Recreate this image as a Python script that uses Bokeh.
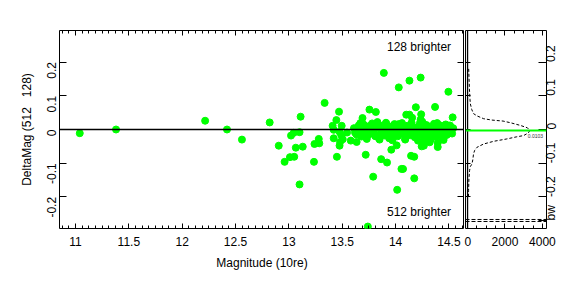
import math
from bokeh.plotting import figure
from bokeh.layouts import row
from bokeh.models import Range1d, LinearAxis, FixedTicker, Span, Label, ColumnDataSource
from bokeh.embed import file_html
from bokeh.resources import INLINE

FONT = "Liberation Sans"

# ---------------- data ----------------
outlier_mag = [11.04, 11.38, 12.215, 12.42, 12.56, 12.82, 12.905, 12.96, 13.01, 13.05,
               13.02, 13.045, 13.065, 13.10, 13.11, 13.10, 13.13, 13.235, 13.24, 13.28,
               13.285, 13.335, 13.42, 13.45, 13.41, 13.42, 13.445, 13.47, 13.495, 13.475,
               13.49, 13.505, 13.48, 13.475, 13.545, 13.58, 13.635, 13.72, 13.62, 13.635,
               13.655, 13.67, 13.69, 13.665, 13.74, 13.755, 13.89, 14.03, 14.13, 14.235,
               14.495, 13.815, 14.19, 14.37, 14.10, 14.13, 14.24, 14.535, 13.83, 14.155,
               14.235, 14.25, 13.96, 14.01, 13.865, 13.92, 13.79, 14.07, 14.055, 14.145,
               14.175, 14.175, 14.015, 14.265, 14.265, 14.32, 14.395, 14.395, 14.245, 13.74]
outlier_delta = [-0.011, 0.000, 0.026, 0.000, -0.030, 0.021, -0.048, -0.096, -0.082, -0.081,
                 -0.018, -0.010, -0.054, -0.163, 0.038, -0.008, -0.051, -0.096, -0.043, -0.028,
                 -0.041, 0.079, -0.026, -0.081, 0.011, -0.001, 0.028, 0.053, 0.011, -0.007,
                 -0.016, -0.029, -0.037, -0.048, -0.009, -0.033, -0.037, -0.075, -0.009, -0.015,
                 0.012, 0.019, 0.034, -0.003, -0.017, 0.059, 0.168, 0.125, 0.145, 0.154,
                 0.112, 0.052, 0.066, 0.067, 0.044, 0.044, 0.045, 0.036, 0.022, 0.035,
                 0.030, 0.023, -0.060, -0.047, -0.088, -0.098, -0.140, -0.117, -0.117, -0.078,
                 -0.081, -0.145, -0.179, -0.036, -0.048, -0.038, -0.040, -0.052, -0.050, -0.288]

band_mag_1 = [13.61, 13.63, 13.66, 13.68, 13.70, 13.71, 13.73, 13.75, 13.77, 13.78,
              13.80, 13.82, 13.84, 13.85, 13.87, 13.88, 13.90, 13.91, 13.93, 13.94,
              13.96, 13.97, 13.99, 14.00, 14.02, 14.03, 14.05, 14.06, 14.08, 14.09,
              14.11, 14.12, 14.14, 14.15, 14.17, 14.18, 14.20, 14.21, 14.23, 14.24,
              14.26, 14.27, 14.29, 14.30, 14.32, 14.33, 14.35, 14.36, 14.38, 14.39,
              14.41, 14.42, 14.44, 14.45, 14.47, 14.48, 14.50, 14.51, 14.53, 14.54]
band_delta_1 = [0.004, -0.012, 0.008, -0.021, 0.015, -0.005, -0.028, 0.010, -0.002, 0.018,
                -0.015, 0.006, -0.024, 0.012, -0.008, 0.002, -0.018, 0.020, -0.004, -0.026,
                0.009, -0.011, 0.016, -0.001, -0.020, 0.007, -0.013, 0.019, -0.006, -0.030,
                0.011, -0.003, -0.017, 0.014, 0.001, -0.023, 0.005, -0.009, 0.021, -0.014,
                0.003, -0.027, 0.013, -0.007, -0.019, 0.008, -0.002, 0.017, -0.022, 0.006,
                -0.010, 0.012, -0.025, 0.002, 0.015, -0.016, -0.004, 0.010, -0.012, 0.004]
band_mag_2 = [13.64, 13.67, 13.69, 13.72, 13.74, 13.76, 13.79, 13.81, 13.83, 13.86,
              13.89, 13.92, 13.95, 13.98, 14.01, 14.04, 14.07, 14.10, 14.13, 14.16,
              14.19, 14.22, 14.25, 14.28, 14.31, 14.34, 14.37, 14.40, 14.43, 14.46,
              14.49, 14.52, 13.85, 13.91, 13.97, 14.03, 14.09, 14.15, 14.21, 14.27,
              14.33, 14.39, 14.45, 14.51]
band_delta_2 = [-0.008, 0.003, -0.017, 0.000, -0.010, 0.006, -0.004, -0.020, 0.009, -0.007,
                0.001, -0.012, 0.004, -0.015, 0.007, -0.006, 0.002, -0.011, -0.001, 0.005,
                -0.008, 0.011, -0.003, -0.009, 0.003, -0.013, 0.000, -0.005, 0.008, -0.018,
                0.001, -0.006, -0.030, 0.018, -0.032, 0.016, -0.028, 0.020, -0.033, 0.014,
                -0.029, 0.019, -0.031, 0.012]

# density of DeltaMag (right panel)
dens_delta = [0.180, 0.150, 0.120, 0.090, 0.076, 0.060, 0.047, 0.040, 0.032, 0.028,
              0.025, 0.020, 0.012, 0.005, -0.003, -0.010, -0.018, -0.022, -0.028, -0.035,
              -0.043, -0.053, -0.062, -0.072, -0.090, -0.102, -0.110, -0.121, -0.150, -0.181, -0.200]
dens_value = [60, 80, 100, 130, 150, 220, 320, 520, 860, 1300,
              1900, 2300, 2830, 3200, 3330, 3250, 3000, 2600, 2100, 1400,
              860, 500, 380, 320, 280, 236, 150, 110, 70, 55, 50]
median_delta = -0.003
bw_levels = [-0.267, -0.273]
bw_label_pos = -0.27
peak_label = "0.0103"

x_ticks = [11, 11.5, 12, 12.5, 13, 13.5, 14, 14.5]
x_tick_labels = ["11", "11.5", "12", "12.5", "13", "13.5", "14", "14.5"]
y_ticks = [-0.2, -0.1, 0, 0.1, 0.2]
y_tick_labels = ["-0.2", "-0.1", "0", "0.1", "0.2"]
d_ticks = [0, 2000, 4000]
d_tick_labels = ["0", "2000", "4000"]

mag = outlier_mag + band_mag_1 + band_mag_2
delta = outlier_delta + band_delta_1 + band_delta_2

YR = (-0.2938, 0.2938)


def style(ax, labels, tick_in, minor_in=0, standoff=7):
    ax.axis_line_color = None
    ax.major_tick_in = tick_in
    ax.major_tick_out = 0
    ax.minor_tick_in = minor_in
    ax.minor_tick_out = 0
    ax.major_tick_line_color = "black"
    ax.minor_tick_line_color = "black" if minor_in else None
    ax.major_label_text_font = FONT
    ax.axis_label_text_font = FONT
    ax.axis_label_text_font_style = "normal"
    ax.axis_label_text_font_size = "12px"
    ax.axis_label_text_color = "black"
    if labels:
        ax.major_label_text_color = "black"
        ax.major_label_text_font_size = "12px"
        ax.major_label_standoff = standoff
    else:
        ax.major_label_text_color = None
        ax.major_label_text_font_size = "1px"
        ax.major_label_standoff = 0


# ---------------- main panel ----------------
p1 = figure(width=464, height=288, x_range=Range1d(10.85, 14.646), y_range=Range1d(*YR),
            output_backend="svg", toolbar_location=None,
            x_axis_location=None, y_axis_location=None,
            min_border_left=59, min_border_right=0, min_border_top=30, min_border_bottom=60)
p1.xgrid.visible = False
p1.ygrid.visible = False
p1.outline_line_color = "black"
p1.background_fill_color = "white"
p1.border_fill_color = "white"

minor_x = [10.875 + 0.0625 * i for i in range(61)]
xt = FixedTicker(ticks=x_ticks, minor_ticks=minor_x)
yt = FixedTicker(ticks=y_ticks)

bx = LinearAxis(ticker=xt, axis_label="Magnitude (10re)")
style(bx, True, 5, 3, standoff=8)
bx.major_label_overrides = dict(zip(x_ticks, x_tick_labels))
bx.axis_label_standoff = 7
p1.add_layout(bx, "below")

tx = LinearAxis(ticker=xt)
style(tx, False, 5, 3)
p1.add_layout(tx, "above")

ly = LinearAxis(ticker=yt, axis_label="DeltaMag (512\u00a0\u00a0\u00a0128)")
style(ly, True, 7, standoff=8)
ly.major_label_overrides = dict(zip(y_ticks, y_tick_labels))
ly.major_label_orientation = math.pi / 2
ly.axis_label_standoff = 6
p1.add_layout(ly, "left")

ry = LinearAxis(ticker=yt)
style(ry, False, 7)
p1.add_layout(ry, "right")

p1.add_layout(Span(location=0, dimension="width", line_color="black", line_width=1.5))
src = ColumnDataSource(dict(mag=mag, delta=delta))
p1.scatter("mag", "delta", source=src, size=7, marker="circle",
           fill_color="#00FF00", line_color="#00FF00")

p1.add_layout(Label(x=14.52, y=0.246, text="128 brighter", text_align="right",
                    text_baseline="middle", text_font=FONT, text_font_size="12px",
                    text_color="black"))
p1.add_layout(Label(x=14.52, y=-0.246, text="512 brighter", text_align="right",
                    text_baseline="middle", text_font=FONT, text_font_size="12px",
                    text_color="black"))

# ---------------- density panel ----------------
p2 = figure(width=112, height=288, x_range=Range1d(-110, 4220), y_range=Range1d(*YR),
            output_backend="svg", toolbar_location=None,
            x_axis_location=None, y_axis_location=None,
            min_border_left=1, min_border_right=30, min_border_top=30, min_border_bottom=60)
p2.xgrid.visible = False
p2.ygrid.visible = False
p2.outline_line_color = "black"

dt = FixedTicker(ticks=d_ticks, minor_ticks=[500 * i for i in range(9)])
b2 = LinearAxis(ticker=dt)
style(b2, True, 5, 3, standoff=8)
b2.major_label_overrides = dict(zip(d_ticks, d_tick_labels))
p2.add_layout(b2, "below")

t2 = LinearAxis(ticker=dt)
style(t2, False, 5, 3)
p2.add_layout(t2, "above")

l2 = LinearAxis(ticker=yt)
style(l2, False, 5)
p2.add_layout(l2, "left")

r2 = LinearAxis(ticker=FixedTicker(ticks=[bw_label_pos] + y_ticks))
style(r2, True, 8, standoff=5)
r2.major_label_overrides = dict(zip([bw_label_pos] + y_ticks, ["bw"] + y_tick_labels))
r2.major_label_orientation = math.pi / 2
p2.add_layout(r2, "right")

p2.add_layout(Span(location=0, dimension="height", line_color="black", line_width=1.3))
p2.add_layout(Span(location=median_delta, dimension="width", line_color="#00FF00", line_width=2))
for lv in bw_levels:
    p2.add_layout(Span(location=lv, dimension="width", line_color="black",
                       line_width=1, line_dash="4 2"))
p2.line(dens_value, dens_delta, line_color="black", line_width=1, line_dash="3 2")
p2.add_layout(Label(x=3630, y=-0.019, text=peak_label, text_align="center",
                    text_baseline="middle", text_font=FONT, text_font_size="5px",
                    text_color="#333333"))

layout = row(p1, p2)
open("out.html", "w").write(file_html(layout, INLINE))
